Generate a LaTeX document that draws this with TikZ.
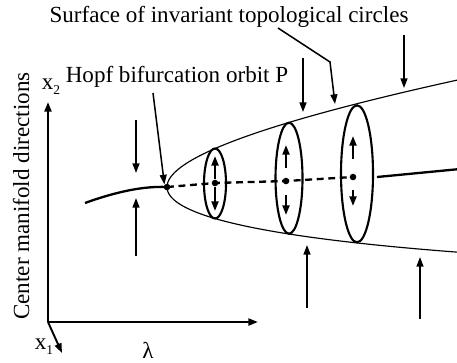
\documentclass[tikz,border=0pt]{standalone}
\usepackage{fontspec}
\setmainfont{Liberation Serif}
\usetikzlibrary{arrows.meta}

\newcommand\lowsub[1]{\raisebox{-2.5pt}{\scriptsize #1}}

\begin{document}
\begin{tikzpicture}[x=0.52pt, y=-0.52pt, font=\fontsize{12}{14}\selectfont,
  arr/.style={-{Triangle[length=5pt, width=3.6pt]}},
  axis/.style={arr, line width=1.1pt},
  flow/.style={arr, line width=0.8pt},
  inner/.style={arr, line width=1.1pt},
  branch/.style={line width=1.2pt},
  ring/.style={line width=1.1pt},
  dot/.style={circle, fill, inner sep=0pt, minimum size=3.4pt}]
\useasboundingbox (0,0) rectangle (457,362);
% axes
\coordinate (O) at (48,322);
\coordinate (x2end) at (48,102);
\coordinate (lamend) at (258,322);
\coordinate (x1end) at (62,353);
\draw[axis] (O) -- (x2end);
\draw[axis] (O) -- (lamend);
\draw[flow, line width=1pt] (O) -- (x1end);
\node (x2) at (51,87) {x\lowsub{2}};
\node (x1) at (44,347) {x\lowsub{1}};
\node (lam) at (148,350) {λ};
\node[rotate=90] (cmd) at (21,196) {Center manifold directions};
% surface of circles
\node[dot] (P) at (167,187) {};
\draw[line width=0.6pt] plot[domain=-17.3:17.3, samples=90, smooth, variable=\t]
  ({167+\t*\t}, {187-0.072*\t*\t+5.05*\t});
\draw[branch] (85,203) .. controls (118,191) and (145,186) .. (P.center);
\draw[branch] (377,177) -- (460,169);
\node[dot] (d1) at (215,183) {};
\node[dot] (d2) at (286,181) {};
\node[dot] (d3) at (353,177) {};
\draw[branch, dash pattern=on 3.6pt off 2.4pt] (P.center) -- (d1.center) -- (d2.center) -- (d3.center);
\draw[ring] (215,183.5) ellipse [x radius=11, y radius=35];
\draw[ring] (289,178.2) ellipse [x radius=13.5, y radius=55.5];
\draw[ring] (357,173.8) ellipse [x radius=16, y radius=68.5];
\draw[inner] (d1) -- ++(0,-27);
\draw[inner] (d1) -- ++(0,28);
\draw[inner] (286,168) -- (286,145);
\draw[inner] (286,195) -- (286,215);
\draw[inner] (353,159) -- (353,136);
\draw[inner] (353,190) -- (353,206);
% outer flow
\draw[flow] (136,120) -- (136,173);
\draw[flow] (136,256) -- (136,198);
\draw[flow] (303,58) -- (303,112);
\draw[flow] (404,35) -- (404,88);
\draw[flow] (307,308) -- (307,245);
\draw[flow] (420,319) -- (420,257);
% labels
\node (surf) at (229,17) {Surface of invariant topological circles};
\node (hopf) at (177,77) {Hopf bifurcation orbit P};
\coordinate (hopfptr) at (153,93);
\coordinate (surfptr) at (278,28);
\draw[flow] (hopfptr) -- (P.north west);
\draw[flow] (surfptr) -- (330,62) -- (335,104);
\end{tikzpicture}
\end{document}
